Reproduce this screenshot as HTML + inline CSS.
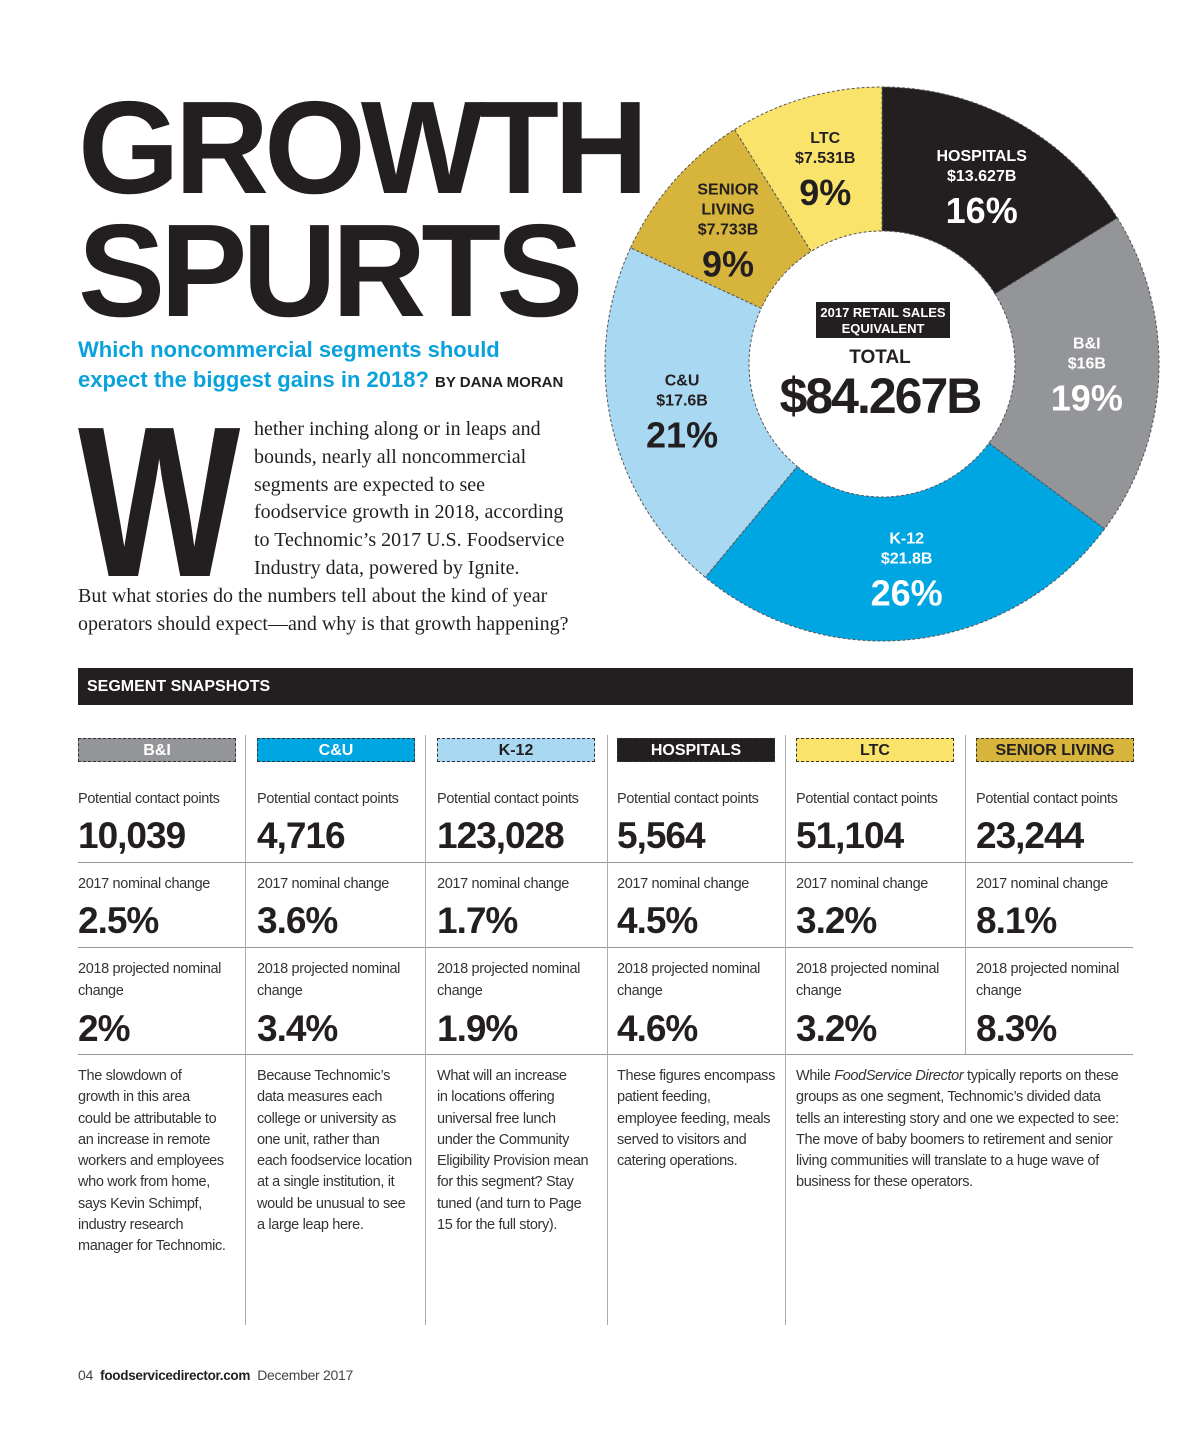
<!DOCTYPE html>
<html><head><meta charset="utf-8">
<style>
*{margin:0;padding:0;box-sizing:border-box}
body{width:1200px;height:1450px;background:#fff;position:relative;overflow:hidden;font-family:"Liberation Sans",sans-serif;color:#231f20}
.abs{position:absolute}
.title{font-weight:900;font-size:132px;line-height:1;letter-spacing:-5px;transform:scaleX(0.99);transform-origin:left}
.sub{color:#0aa2dc;font-weight:bold;font-size:22px;line-height:30px}
.body{font-family:"Liberation Serif",serif;font-size:20px;line-height:27.8px;color:#231f20}
.pill{position:absolute;top:738px;width:158px;height:24px;font-weight:bold;font-size:16px;text-align:center;line-height:23px;border:1px dashed #333}
.lab{position:absolute;font-family:"Liberation Sans",sans-serif;font-size:14.5px;letter-spacing:-0.35px;color:#333;line-height:21.5px}
.num{position:absolute;font-weight:900;font-size:37px;letter-spacing:-1px;line-height:1}
.hl{position:absolute;height:1px;background:#999}
.vl{position:absolute;width:1px;background:#aaa}
.desc{position:absolute;top:1066px;font-family:"Liberation Sans",sans-serif;font-size:14.5px;letter-spacing:-0.35px;line-height:21.3px;color:#333}
</style></head><body>
<div class="abs title" style="left:78px;top:82px">GROWTH</div>
<div class="abs title" style="left:78px;top:205px">SPURTS</div>
<div class="abs sub" style="left:78px;top:335px">Which noncommercial segments should<br>expect the biggest gains in 2018? <span style="color:#231f20;font-size:15px">BY DANA MORAN</span></div>
<div class="abs" style="left:78px;top:394px;font-weight:900;font-size:215px;line-height:1;transform:scaleX(0.8);transform-origin:left">W</div>
<div class="abs body" style="left:254px;top:416px">hether inching along or in leaps and<br>bounds, nearly all noncommercial<br>segments are expected to see<br>foodservice growth in 2018, according<br>to Technomic’s 2017 U.S. Foodservice<br>Industry data, powered by Ignite.</div>
<div class="abs body" style="left:78px;top:583px">But what stories do the numbers tell about the kind of year<br>operators should expect—and why is that growth happening?</div>

<svg class="abs" style="left:0;top:0" width="1200" height="660">
<g id="slices"></g><g id="labels"></g>
<rect x="816" y="302" width="134" height="36" fill="#231f20"/>
<text x="883" y="317" text-anchor="middle" fill="#fff" font-weight="bold" font-size="13" font-family="Liberation Sans">2017 RETAIL SALES</text>
<text x="883" y="333" text-anchor="middle" fill="#fff" font-weight="bold" font-size="13" font-family="Liberation Sans">EQUIVALENT</text>
<text x="880" y="363" text-anchor="middle" fill="#231f20" font-weight="bold" font-size="19" font-family="Liberation Sans">TOTAL</text>
<text x="880" y="413" text-anchor="middle" fill="#231f20" font-weight="900" font-size="50" letter-spacing="-2" font-family="Liberation Sans">$84.267B</text>
</svg>

<div class="abs" style="left:78px;top:668px;width:1055px;height:37px;background:#231f20;color:#fff;font-weight:bold;font-size:16px;line-height:37px;padding-left:9px">SEGMENT SNAPSHOTS</div>

<div id="table"></div>

<div class="abs" style="left:78px;top:1367px;font-size:14px;letter-spacing:-0.3px;color:#444">04 &nbsp;<b style="color:#231f20;font-size:13.5px">foodservicedirector.com</b> &nbsp;December 2017</div>

<script>
const segNames=["HOSPITALS","B&I","K-12","C&U","SENIOR LIVING","LTC"];
const segDollars=["$13.627B","$16B","$21.8B","$17.6B","$7.733B","$7.531B"];
const segValues=[13.627,16,21.8,17.6,7.733,7.531];
const segPct=["16%","19%","26%","21%","9%","9%"];
const segColors=["#231f20","#939598","#00a6e2","#a9d8f3","#d7b53c","#f9e36b"];
const segText=["#fff","#fff","#fff","#231f20","#231f20","#231f20"];
const cx=882,cy=364,R=277,r=133;
const total=segValues.reduce((a,b)=>a+b,0);
function ang(v){return v/total*2*Math.PI;}
function pt(a,rad){return [cx+rad*Math.sin(a),cy-rad*Math.cos(a)];}
const NS="http://www.w3.org/2000/svg";
const gS=document.getElementById('slices'),gL=document.getElementById('labels');
let acc=0;
segValues.forEach((v,i)=>{
  const a0=ang(acc),a1=ang(acc+v);acc+=v;
  const [x0,y0]=pt(a0,R),[x1,y1]=pt(a1,R),[x2,y2]=pt(a1,r),[x3,y3]=pt(a0,r);
  const lg=(a1-a0)>Math.PI?1:0;
  const p=document.createElementNS(NS,'path');
  p.setAttribute('d',`M${x0},${y0}A${R},${R} 0 ${lg} 1 ${x1},${y1}L${x2},${y2}A${r},${r} 0 ${lg} 0 ${x3},${y3}Z`);
  p.setAttribute('fill',segColors[i]);p.setAttribute('stroke','#555');p.setAttribute('stroke-width','1');p.setAttribute('stroke-dasharray','3,2');
  
  
  gS.appendChild(p);
  const am=(a0+a1)/2;const [lx,ly]=pt(am,205);
  const lines=segNames[i]==="SENIOR LIVING"?["SENIOR","LIVING",segDollars[i]]:[segNames[i],segDollars[i]];
  const t=document.createElementNS(NS,'text');
  
  
  t.setAttribute('text-anchor','middle');t.setAttribute('fill',segText[i]);t.setAttribute('font-family','Liberation Sans');t.setAttribute('font-weight','bold');
  let y=ly-(lines.length*20+36)/2+14;
  lines.forEach(s=>{const ts=document.createElementNS(NS,'tspan');ts.setAttribute('x',lx);ts.setAttribute('y',y);ts.setAttribute('font-size','16');ts.textContent=s;t.appendChild(ts);y+=20;});
  const tp=document.createElementNS(NS,'tspan');tp.setAttribute('x',lx);tp.setAttribute('y',y+22);tp.setAttribute('font-size','36');tp.setAttribute('font-weight','900');tp.textContent=segPct[i];t.appendChild(tp);
  gL.appendChild(t);
});

const cols=[
 {n:"B&I",bg:"#939598",fg:"#fff",pc:"10,039",c17:"2.5%",c18:"2%",d:"The slowdown of<br>growth in this area<br>could be attributable to<br>an increase in remote<br>workers and employees<br>who work from home,<br>says Kevin Schimpf,<br>industry research<br>manager for Technomic."},
 {n:"C&U",bg:"#00a6e2",fg:"#fff",pc:"4,716",c17:"3.6%",c18:"3.4%",d:"Because Technomic’s<br>data measures each<br>college or university as<br>one unit, rather than<br>each foodservice location<br>at a single institution, it<br>would be unusual to see<br>a large leap here."},
 {n:"K-12",bg:"#a9d8f3",fg:"#231f20",pc:"123,028",c17:"1.7%",c18:"1.9%",d:"What will an increase<br>in locations offering<br>universal free lunch<br>under the Community<br>Eligibility Provision mean<br>for this segment? Stay<br>tuned (and turn to Page<br>15 for the full story)."},
 {n:"HOSPITALS",bg:"#231f20",fg:"#fff",pc:"5,564",c17:"4.5%",c18:"4.6%",d:"These figures encompass<br>patient feeding,<br>employee feeding, meals<br>served to visitors and<br>catering operations."},
 {n:"LTC",bg:"#f9e36b",fg:"#231f20",pc:"51,104",c17:"3.2%",c18:"3.2%",d:"While <i>FoodService Director</i> typically reports on these<br>groups as one segment, Technomic’s divided data<br>tells an interesting story and one we expected to see:<br>The move of baby boomers to retirement and senior<br>living communities will translate to a huge wave of<br>business for these operators."},
 {n:"SENIOR LIVING",bg:"#d7b53c",fg:"#231f20",pc:"23,244",c17:"8.1%",c18:"8.3%",d:null}
];
const xs=[78,257,437,617,796,976];
let h='';
cols.forEach((c,i)=>{
 const x=xs[i];const slug=c.n.toLowerCase().replace(/[^a-z0-9]+/g,'-');
 h+=`<div class="pill" style="left:${x}px;background:${c.bg};color:${c.fg}">${c.n}</div>`;
 h+=`<div class="lab" style="left:${x}px;top:789px">Potential contact points</div>`;
 h+=`<div class="num" style="left:${x}px;top:817px">${c.pc}</div>`;
 h+=`<div class="lab" style="left:${x}px;top:874px">2017 nominal change</div>`;
 h+=`<div class="num" style="left:${x}px;top:902px">${c.c17}</div>`;
 h+=`<div class="lab" style="left:${x}px;top:959px">2018 projected nominal<br>change</div>`;
 h+=`<div class="num" style="left:${x}px;top:1010px">${c.c18}</div>`;
 if(c.d)h+=`<div class="desc" style="left:${x}px">${c.d}</div>`;
});
[862,947,1054].forEach(y=>{h+=`<div class="hl" style="left:78px;top:${y}px;width:1055px"></div>`;});
[245,425,607,785].forEach(x=>{h+=`<div class="vl" style="left:${x}px;top:735px;height:590px"></div>`;});
h+=`<div class="vl" style="left:965px;top:735px;height:319px"></div>`;
document.getElementById('table').innerHTML=h;
</script>
</body></html>
